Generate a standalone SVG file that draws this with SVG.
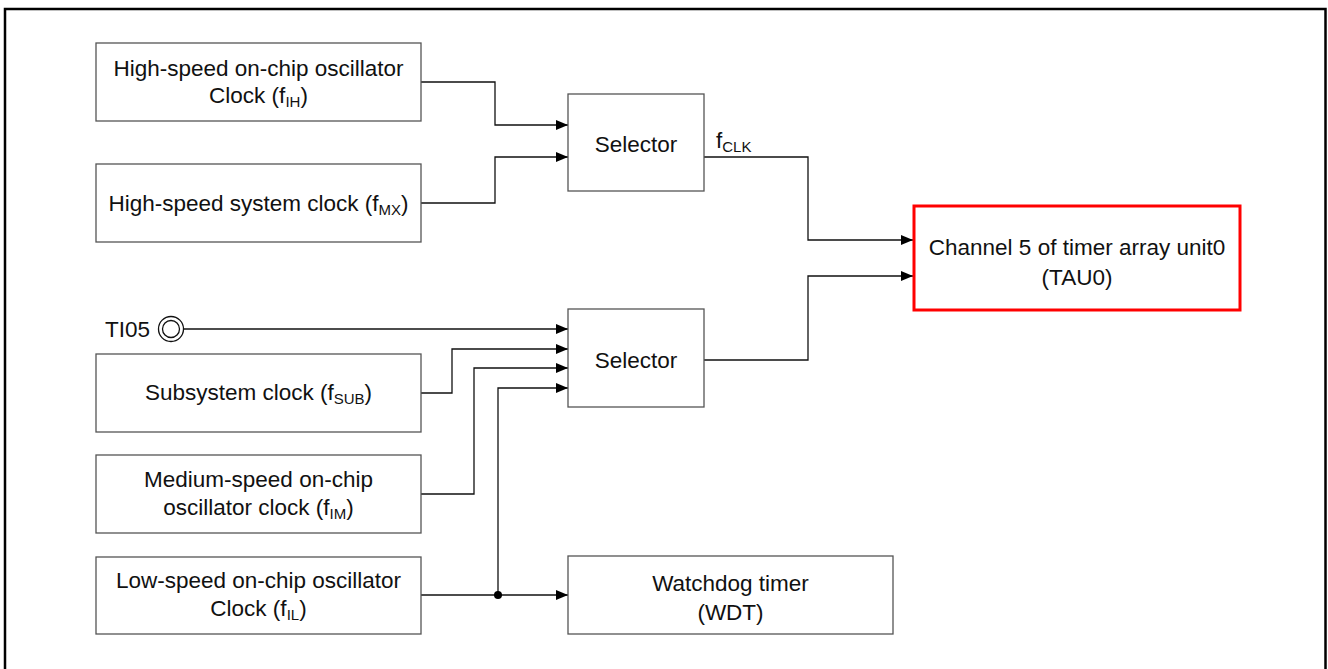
<svg xmlns="http://www.w3.org/2000/svg" width="1328" height="669" viewBox="0 0 1328 669">
<style>
.box{fill:#fff;stroke:#555;stroke-width:1.3}
.red{fill:#fff;stroke:#f00;stroke-width:3}
.t{font-family:"Liberation Sans",Arial,sans-serif;font-size:22.5px;fill:#111;text-anchor:middle}
.ts{font-family:"Liberation Sans",Arial,sans-serif;font-size:22.5px;fill:#111}
.sub{font-size:15px}
.w{fill:none;stroke:#111;stroke-width:1.3}
</style>
<defs>
<marker id="ah" markerWidth="12" markerHeight="10" refX="12" refY="5" orient="auto" markerUnits="userSpaceOnUse">
<path d="M0,0 L12,5 L0,10 Z" fill="#000"/>
</marker>
</defs>
<rect x="5" y="9" width="1320.5" height="680" fill="none" stroke="#000" stroke-width="2.5"/>
<g id="connectors">
<polyline class="w" points="421,82 495,82 495,125 568,125" marker-end="url(#ah)"/>
<polyline class="w" points="421,203 495,203 495,157 568,157" marker-end="url(#ah)"/>
<polyline class="w" points="704,157 808,157 808,240 913,240" marker-end="url(#ah)"/>
<polyline class="w" points="704,360 808,360 808,276 913,276" marker-end="url(#ah)"/>
<polyline class="w" points="184,329 568,329" marker-end="url(#ah)"/>
<polyline class="w" points="421,393 452,393 452,349 568,349" marker-end="url(#ah)"/>
<polyline class="w" points="421,494 474,494 474,368 568,368" marker-end="url(#ah)"/>
<polyline class="w" points="498,595 498,388 568,388" marker-end="url(#ah)"/>
<polyline class="w" points="421,595 568,595" marker-end="url(#ah)"/>
<circle cx="498" cy="595" r="4" fill="#000"/>
</g>
<g id="hoco">
<rect class="box" x="96" y="43" width="325" height="78"/>
<text class="t" x="258.5" y="76">High-speed on-chip oscillator</text>
<text class="t" x="258.5" y="103">Clock (f<tspan class="sub" dy="4">IH</tspan><tspan dy="-4">)</tspan></text>
</g>
<g id="hssys">
<rect class="box" x="96" y="164" width="325" height="78"/>
<text class="t" x="258.5" y="211">High-speed system clock (f<tspan class="sub" dy="4">MX</tspan><tspan dy="-4">)</tspan></text>
</g>
<g id="selector1">
<rect class="box" x="568" y="94" width="136" height="97"/>
<text class="t" x="636" y="152">Selector</text>
</g>
<g id="fclk-label">
<text class="ts" x="716" y="148">f<tspan class="sub" dy="4">CLK</tspan></text>
</g>
<g id="tau0">
<rect class="red" x="914" y="206" width="326" height="104"/>
<text class="t" x="1077" y="255">Channel 5 of timer array unit0</text>
<text class="t" x="1077" y="285">(TAU0)</text>
</g>
<g id="ti05">
<text class="ts" x="150" y="337" text-anchor="end">TI05</text>
<circle cx="171" cy="329" r="12.5" fill="#fff" stroke="#111" stroke-width="1.3"/>
<circle cx="171" cy="329" r="8.5" fill="#fff" stroke="#111" stroke-width="1.3"/>
</g>
<g id="subsys">
<rect class="box" x="96" y="354" width="325" height="78"/>
<text class="t" x="258.5" y="400">Subsystem clock (f<tspan class="sub" dy="4">SUB</tspan><tspan dy="-4">)</tspan></text>
</g>
<g id="selector2">
<rect class="box" x="568" y="309" width="136" height="98"/>
<text class="t" x="636" y="368">Selector</text>
</g>
<g id="moco">
<rect class="box" x="96" y="455" width="325" height="78"/>
<text class="t" x="258.5" y="487">Medium-speed on-chip</text>
<text class="t" x="258.5" y="515">oscillator clock (f<tspan class="sub" dy="4">IM</tspan><tspan dy="-4">)</tspan></text>
</g>
<g id="loco">
<rect class="box" x="96" y="557" width="325" height="77"/>
<text class="t" x="258.5" y="588">Low-speed on-chip oscillator</text>
<text class="t" x="258.5" y="616">Clock (f<tspan class="sub" dy="4">IL</tspan><tspan dy="-4">)</tspan></text>
</g>
<g id="wdt">
<rect class="box" x="568" y="556" width="325" height="78"/>
<text class="t" x="730.5" y="591">Watchdog timer</text>
<text class="t" x="730.5" y="620">(WDT)</text>
</g>
</svg>
